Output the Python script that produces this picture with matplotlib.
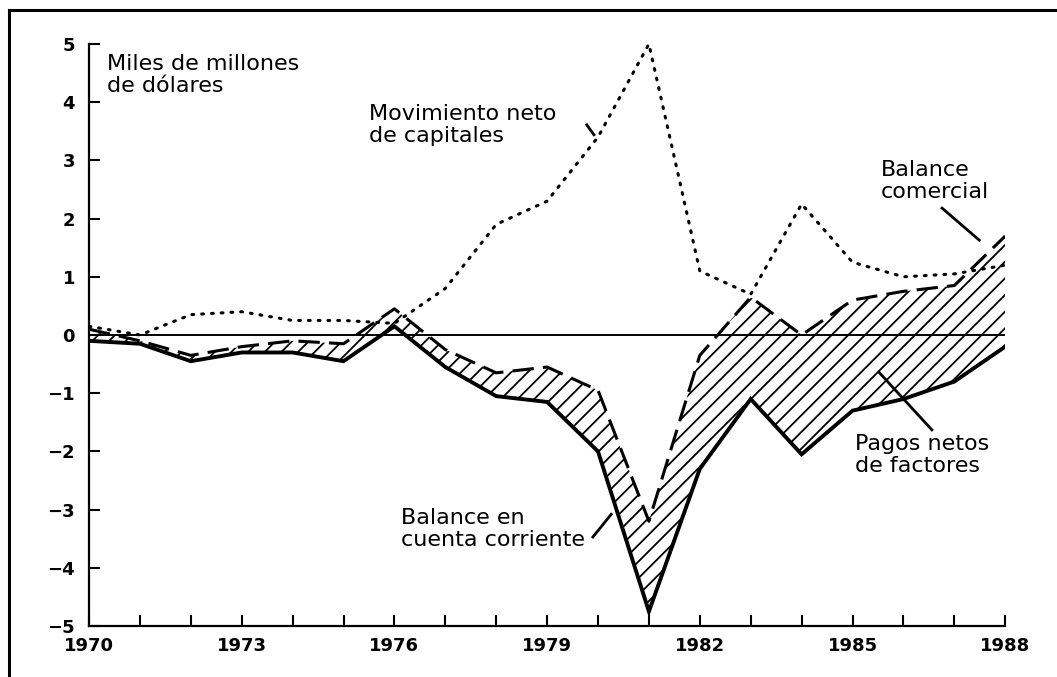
import numpy as np
import matplotlib
matplotlib.use("Agg")
import matplotlib.pyplot as plt
from matplotlib.lines import Line2D

# data (miles de millones de dolares)
years = np.arange(1970, 1989)
cuenta_corriente = [-0.1, -0.15, -0.45, -0.3, -0.3, -0.45, 0.15, -0.55, -1.05, -1.15,
                    -2.0, -4.75, -2.3, -1.1, -2.05, -1.3, -1.1, -0.8, -0.2]
balance_comercial = [0.1, -0.1, -0.35, -0.2, -0.1, -0.15, 0.45, -0.25, -0.65, -0.55,
                     -0.95, -3.2, -0.35, 0.65, 0.0, 0.6, 0.75, 0.85, 1.7]
mov_capitales = [0.15, 0.0, 0.35, 0.4, 0.25, 0.25, 0.2, 0.8, 1.9, 2.3,
                 3.4, 5.0, 1.1, 0.7, 2.25, 1.25, 1.0, 1.05, 1.2]
x_ticks = [1970, 1973, 1976, 1979, 1982, 1985, 1988]
y_ticks = [-5, -4, -3, -2, -1, 0, 1, 2, 3, 4, 5]

plt.rcParams['hatch.linewidth'] = 1.3
plt.rcParams['font.family'] = 'DejaVu Sans'

fig = plt.figure(figsize=(10.57, 6.77), dpi=100)
ax = fig.add_axes([0.0842, 0.0753, 0.8668, 0.8597])

# pagos netos de factores = hatched gap
ax.fill_between(years, cuenta_corriente, balance_comercial, facecolor='none',
                edgecolor='black', hatch='//', linewidth=0)
ax.axhline(0, color='black', lw=1.4)
ax.plot(years, mov_capitales, color='black', lw=2.2, linestyle=(0, (0.6, 2.6)),
        dash_capstyle='round')
ax.plot(years, balance_comercial, color='black', lw=2.2, linestyle=(0, (7, 3)))
ax.plot(years, cuenta_corriente, color='black', lw=2.8, solid_joinstyle='miter')

ax.set_xlim(1970, 1988)
ax.set_ylim(-5, 5)
for s in ['top', 'right']:
    ax.spines[s].set_visible(False)
ax.spines['left'].set_linewidth(1.6)
ax.spines['bottom'].set_linewidth(1.6)

ax.set_xticks(x_ticks)
ax.set_xticks(years, minor=True)
ax.set_yticks(y_ticks)
ax.set_yticklabels([str(v).replace('-', '\u2212') for v in y_ticks])
ax.tick_params(axis='both', which='both', direction='in', length=8, width=1.5)
ax.tick_params(axis='x', pad=8)
ax.tick_params(axis='y', pad=10)
for lab in ax.get_xticklabels() + ax.get_yticklabels():
    lab.set_fontsize(13)
    lab.set_fontweight('bold')

fs = 16
ls = 1.12
ax.text(1970.35, 4.83, 'Miles de millones\nde dólares', fontsize=fs, va='top',
        linespacing=ls)
ax.text(1975.5, 3.97, 'Movimiento neto\nde capitales', fontsize=fs, va='top',
        linespacing=ls)
ax.text(1985.55, 3.0, 'Balance\ncomercial', fontsize=fs, va='top', linespacing=ls)
ax.text(1985.05, -1.7, 'Pagos netos\nde factores', fontsize=fs, va='top',
        linespacing=ls)
ax.text(1976.12, -2.98, 'Balance en\ncuenta corriente', fontsize=fs, va='top',
        linespacing=ls)

# leader lines
ax.plot([1979.78, 1979.92], [3.61, 3.44], color='black', lw=2)
ax.plot([1986.76, 1987.49], [2.18, 1.63], color='black', lw=2)
ax.plot([1985.52, 1986.56], [-0.64, -1.63], color='black', lw=2)
ax.plot([1979.9, 1980.26], [-3.47, -3.08], color='black', lw=2)

# outer frame
fig.add_artist(Line2D([0.0085, 1.0], [0.985, 0.985], color='black', lw=2.2))
fig.add_artist(Line2D([0.0085, 0.0085], [0.0, 0.985], color='black', lw=2.2))

fig.savefig('out.png', dpi=100)
